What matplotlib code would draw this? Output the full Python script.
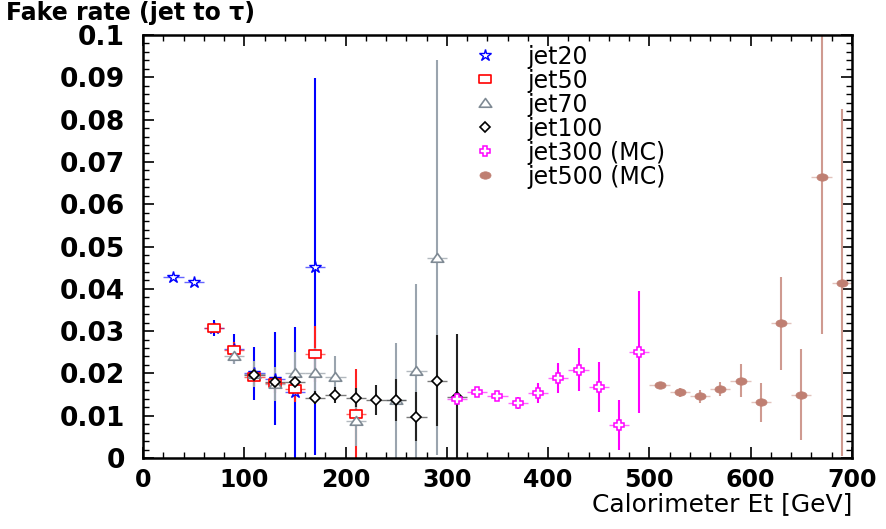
import numpy as np
import matplotlib
matplotlib.use("Agg")
import matplotlib.pyplot as plt
from matplotlib.path import Path
from matplotlib.lines import Line2D
from matplotlib.ticker import MultipleLocator, FuncFormatter

# fake rate per jet sample, vs calorimeter Et (bin half width 10 GeV)
jet20_x = [30, 50, 70, 90, 110, 130, 150, 170]
jet20_y = [0.0429, 0.0417, 0.0308, 0.0258, 0.0200, 0.0187, 0.0155, 0.0452]
jet20_err = [0.0004, 0.0004, 0.0019, 0.0035, 0.0062, 0.0110, 0.0155, 0.0446]

jet50_x = [70, 90, 110, 130, 150, 170, 210]
jet50_y = [0.0307, 0.0256, 0.0192, 0.0178, 0.0163, 0.0246, 0.0104]
jet50_err = [0.0012, 0.0018, 0.0022, 0.0024, 0.0030, 0.0067, 0.0106]

jet70_x = [90, 110, 130, 150, 170, 190, 210, 250, 270, 290]
jet70_y = [0.0242, 0.0199, 0.0175, 0.0200, 0.0200, 0.0192, 0.0088, 0.0136, 0.0205, 0.0474]
jet70_err = [0.0020, 0.0030, 0.0040, 0.0050, 0.0060, 0.0050, 0.0060, 0.0137, 0.0207, 0.0466]

jet100_x = [110, 130, 150, 170, 190, 210, 230, 250, 270, 290, 310]
jet100_y = [0.0197, 0.0180, 0.0180, 0.0143, 0.0149, 0.0143, 0.0137, 0.0137, 0.0098, 0.0183, 0.0145]
jet100_err = [0.0010, 0.0012, 0.0015, 0.0015, 0.0018, 0.0022, 0.0035, 0.0050, 0.0058, 0.0107, 0.0148]

jet300_x = [310, 330, 350, 370, 390, 410, 430, 450, 470, 490]
jet300_y = [0.0139, 0.0155, 0.0147, 0.0130, 0.0154, 0.0189, 0.0209, 0.0168, 0.0078, 0.0250]
jet300_err = [0.0008, 0.0008, 0.0009, 0.0015, 0.0023, 0.0035, 0.0051, 0.0060, 0.0058, 0.0144]

jet500_x = [510, 530, 550, 570, 590, 610, 630, 650, 670, 690]
jet500_y = [0.0172, 0.0155, 0.0146, 0.0163, 0.0183, 0.0132, 0.0318, 0.0150, 0.0665, 0.0414]
jet500_err = [0.0007, 0.0010, 0.0015, 0.0016, 0.0039, 0.0046, 0.0111, 0.0108, 0.0373, 0.0410]

bin_half = 10

labels = ["jet20", "jet50", "jet70", "jet100", "jet300 (MC)", "jet500 (MC)"]

# squashed markers (wider than tall)
rect = Path([(-1.4, -1), (1.4, -1), (1.4, 1), (-1.4, 1), (-1.4, -1)],
            [Path.MOVETO, Path.LINETO, Path.LINETO, Path.LINETO, Path.CLOSEPOLY])
tri = Path([(-1, -0.6), (1, -0.6), (0, 0.8), (-1, -0.6)],
           [Path.MOVETO, Path.LINETO, Path.LINETO, Path.CLOSEPOLY])
circ = Path.unit_circle()
ellipse = Path(circ.vertices * np.array([1.5, 1.0]), circ.codes)

series = [
    (jet20_x, jet20_y, jet20_err, dict(marker="*", ms=9, mec="#0000ff", mfc="white", mew=1.0),
     "#0000ff", "#0000ff"),
    (jet50_x, jet50_y, jet50_err, dict(marker=rect, ms=9, mec="#ff0000", mfc="white", mew=1.2),
     "#ff2020", "#ff0000"),
    (jet70_x, jet70_y, jet70_err, dict(marker=tri, ms=9, mec="#7f8a94", mfc="white", mew=1.2),
     "#9aa4ae", "#7f8a94"),
    (jet100_x, jet100_y, jet100_err, dict(marker="D", ms=5, mec="black", mfc="white", mew=1.2),
     "#222222", "#222222"),
    (jet300_x, jet300_y, jet300_err, dict(marker="P", ms=7.5, mec="#ff00ff", mfc="white", mew=1.1),
     "#ff00ff", "#ff00ff"),
    (jet500_x, jet500_y, jet500_err, dict(marker=ellipse, ms=8, mec="#bf7f72", mfc="#bf7f72", mew=0.5),
     "#cf9a90", "#cf9a90"),
]

fig = plt.figure(figsize=(8.86, 5.29), dpi=100)
ax = fig.add_axes([0.1614, 0.1342, 0.8002, 0.7996])

handles = []
for x, y, e, mk, ecol, hcol in series:
    cont = ax.errorbar(x, y, yerr=e, xerr=bin_half, fmt="none", ecolor=ecol,
                       elinewidth=1.5, capsize=0, zorder=2)
    xbars, ybars = cont.lines[2]
    xbars.set_linewidth(1.0)
    xbars.set_color(hcol)
    xbars.set_alpha(0.6)
    ax.plot(x, y, linestyle="none", zorder=3, **mk)
    handles.append(Line2D([], [], linestyle="none", **mk))

ax.set_xlim(0, 700)
ax.set_ylim(0, 0.1)

ax.xaxis.set_major_locator(MultipleLocator(100))
ax.xaxis.set_minor_locator(MultipleLocator(20))
ax.yaxis.set_major_locator(MultipleLocator(0.01))
ax.yaxis.set_minor_locator(MultipleLocator(0.002))
ax.yaxis.set_major_formatter(FuncFormatter(lambda v, p: f"{v:g}"))

ax.tick_params(which="both", direction="in", top=True, right=True)
ax.tick_params(which="major", length=8, width=1.2)
ax.tick_params(which="minor", length=4, width=1.0)
ax.tick_params(axis="y", which="major", pad=13, labelsize=19)
ax.tick_params(axis="x", which="major", pad=7, labelsize=17)
for lab in ax.get_xticklabels() + ax.get_yticklabels():
    lab.set_fontweight("bold")
for sp in ax.spines.values():
    sp.set_linewidth(1.8)

ax.set_xlabel("Calorimeter Et [GeV]", loc="right", fontsize=18, labelpad=0)
fig.text(0.007, 0.975, "Fake rate (jet to τ)", fontsize=17, fontweight="bold",
         ha="left", va="center")

ax.legend(handles, labels, loc="upper left", bbox_to_anchor=(0.4654, 0.977),
          frameon=False, fontsize=17, labelspacing=0.0, handlelength=1.0,
          handletextpad=1.3, borderpad=0, borderaxespad=0)

fig.savefig("out.png", dpi=100)
